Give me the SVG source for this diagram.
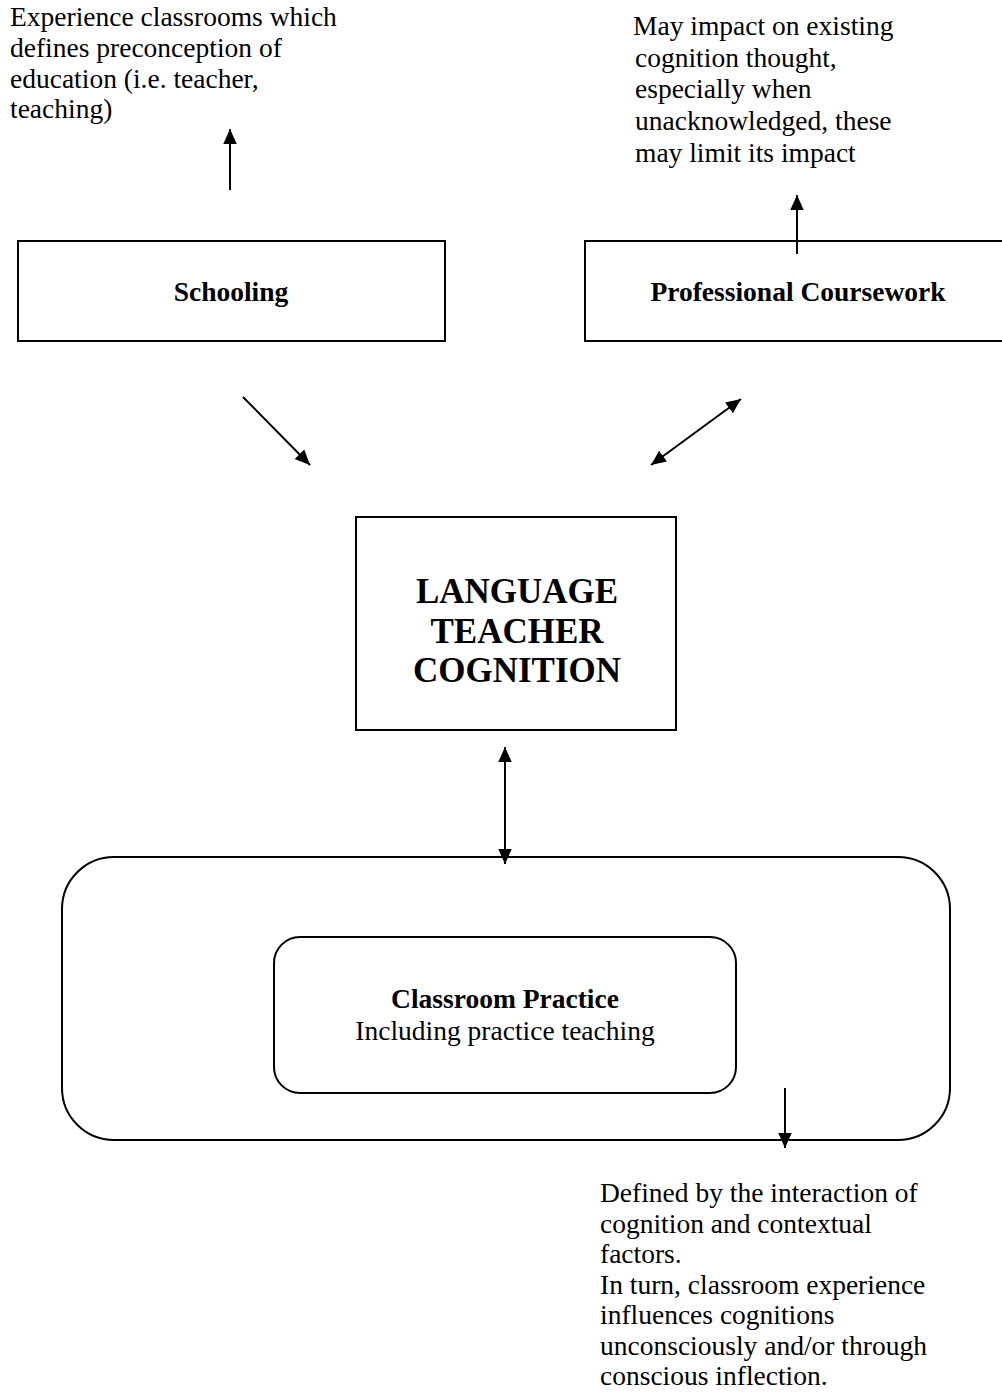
<svg xmlns="http://www.w3.org/2000/svg" width="1002" height="1399" viewBox="0 0 1002 1399">
<defs>
<style>
.t{font-family:"Liberation Serif","Times New Roman",serif;font-size:27.5px;fill:#000}
.b{font-weight:bold}
.big{font-size:35px}
.box{fill:#fff;stroke:#000;stroke-width:2}
.ln{stroke:#000;stroke-width:2;fill:none}
</style>
<marker id="a" viewBox="0 0 10 10" refX="10" refY="5" markerWidth="15" markerHeight="15" markerUnits="userSpaceOnUse" orient="auto-start-reverse">
<path d="M0,0.5 L10,5 L0,9.5 z" fill="#000"/>
</marker>
</defs>
<rect width="1002" height="1399" fill="#fff"/>
<g id="note-schooling">
<text class="t" x="10" y="26">Experience classrooms which</text>
<text class="t" x="10" y="57">defines preconception of</text>
<text class="t" x="10" y="87.5">education (i.e. teacher,</text>
<text class="t" x="10" y="118">teaching)</text>
</g>
<g id="note-coursework">
<text class="t" x="633" y="35">May impact on existing</text>
<text class="t" x="635" y="66.5">cognition thought,</text>
<text class="t" x="635" y="98">especially when</text>
<text class="t" x="635" y="130">unacknowledged, these</text>
<text class="t" x="635" y="162">may limit its impact</text>
</g>
<g id="schooling">
<rect class="box" x="18" y="241" width="427" height="100"/>
<text class="t b" x="231" y="301" text-anchor="middle">Schooling</text>
</g>
<g id="coursework">
<rect class="box" x="585" y="241" width="420" height="100"/>
<text class="t b" x="798" y="301" text-anchor="middle">Professional Coursework</text>
</g>
<g id="ltc">
<rect class="box" x="356" y="517" width="320" height="213"/>
<text class="t b big" x="517" y="603" text-anchor="middle">LANGUAGE</text>
<text class="t b big" x="517" y="643" text-anchor="middle">TEACHER</text>
<text class="t b big" x="517" y="682" text-anchor="middle">COGNITION</text>
</g>
<g id="context">
<rect class="box" x="62" y="857" width="888" height="283" rx="52" ry="52"/>
</g>
<g id="practice">
<rect class="box" x="274" y="937" width="462" height="156" rx="26" ry="26"/>
<text class="t b" x="505" y="1008" text-anchor="middle">Classroom Practice</text>
<text class="t" x="505" y="1040" text-anchor="middle">Including practice teaching</text>
</g>
<g id="note-practice">
<text class="t" x="600" y="1202">Defined by the interaction of</text>
<text class="t" x="600" y="1232.5">cognition and contextual</text>
<text class="t" x="600" y="1263">factors.</text>
<text class="t" x="600" y="1293.5">In turn, classroom experience</text>
<text class="t" x="600" y="1324">influences cognitions</text>
<text class="t" x="600" y="1354.5">unconsciously and/or through</text>
<text class="t" x="600" y="1385">conscious inflection.</text>
</g>
<g id="connectors">
<line class="ln" x1="230" y1="190" x2="230" y2="129" marker-end="url(#a)"/>
<line class="ln" x1="797" y1="254" x2="797" y2="195" marker-end="url(#a)"/>
<line class="ln" x1="243" y1="397" x2="310" y2="465" marker-end="url(#a)"/>
<line class="ln" x1="651" y1="465" x2="741" y2="399" marker-start="url(#a)" marker-end="url(#a)"/>
<line class="ln" x1="505" y1="747" x2="505" y2="864" marker-start="url(#a)" marker-end="url(#a)"/>
<line class="ln" x1="785" y1="1088" x2="785" y2="1148" marker-end="url(#a)"/>
</g>
</svg>
